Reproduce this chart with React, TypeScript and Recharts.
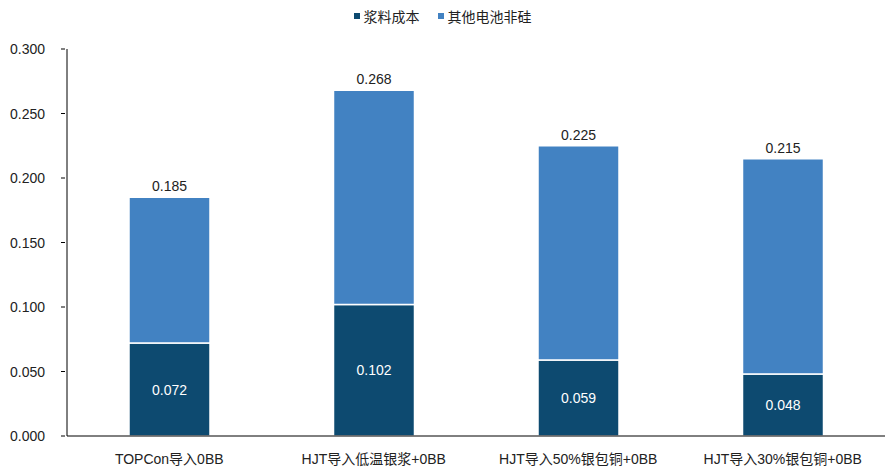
import React from 'react';
import { BarChart, Bar, XAxis, YAxis, Legend, LabelList } from 'recharts';

const categories = ['TOPCon导入0BB', 'HJT导入低温银浆+0BB', 'HJT导入50%银包铜+0BB', 'HJT导入30%银包铜+0BB'];
const pasteCost = [0.072, 0.102, 0.059, 0.048];
const totals = [0.185, 0.268, 0.225, 0.215];
const yTicks = [0, 0.05, 0.1, 0.15, 0.2, 0.25, 0.3];
const seriesNames = ['浆料成本', '其他电池非硅'];

const data = categories.map((name, i) => ({
  name,
  paste: pasteCost[i],
  other: +(totals[i] - pasteCost[i]).toFixed(3),
  total: totals[i],
}));

const FONT = '"Liberation Sans", Arial, "Noto Sans CJK SC", sans-serif';
const DARK = '#0d4a70';
const LIGHT = '#4282c2';

const YTick = (props: any) => {
  const { x, y, payload } = props;
  return (
    <g>
      <text x={x} y={y} dy={5} textAnchor="end" fontSize={14} fill="#222" fontFamily={FONT}>
        {payload.value.toFixed(3)}
      </text>
      <line x1={x + 16} x2={x + 20} y1={y} y2={y} stroke="#000" />
    </g>
  );
};

const TotalLabel = (props: any) => {
  const { x, y, width, index } = props;
  return (
    <text x={x + width / 2} y={y - 6} textAnchor="middle" fontSize={14} fill="#222" fontFamily={FONT}>
      {totals[index].toFixed(3)}
    </text>
  );
};

const LegendBox = () => {
  const colors = [DARK, LIGHT];
  return (
    <div style={{ display: 'flex', justifyContent: 'center', gap: 18, fontSize: 14, color: '#222', fontFamily: FONT, height: 19 }}>
      {seriesNames.map((n, i) => (
        <span key={n} style={{ display: 'flex', alignItems: 'center' }}>
          <span style={{ width: 6, height: 6, background: colors[i], marginRight: 4, display: 'inline-block' }} />
          {n}
        </span>
      ))}
    </div>
  );
};

const App = () => {
  return (
    <div style={{ position: 'absolute', left: 0, top: 0, fontFamily: FONT }}>
      <BarChart
        width={885}
        height={468}
        data={data}
        margin={{ top: 30, right: 0, left: 0, bottom: 0 }}
        barCategoryGap={62}
      >
        <Legend verticalAlign="top" align="center" content={<LegendBox />} wrapperStyle={{ top: 6, left: 0 }} />
        <XAxis
          dataKey="name"
          height={32}
          axisLine={{ stroke: '#000' }}
          tickLine={false}
          tickMargin={12}
          tick={{ fontSize: 14, fill: '#222', fontFamily: FONT }}
          interval={0}
        />
        <YAxis
          width={67}
          domain={[0, 0.3]}
          ticks={yTicks}
          axisLine={{ stroke: '#000' }}
          tickLine={false}
          tickMargin={16}
          tick={<YTick />}
          interval={0}
        />
        <Bar dataKey="paste" name={seriesNames[0]} stackId="a" fill={DARK} stroke="#fff" strokeWidth={1.5} isAnimationActive={false}>
          <LabelList
            dataKey="paste"
            position="center"
            fill="#fff"
            fontSize={14}
            fontFamily={FONT}
            formatter={(v: any) => Number(v).toFixed(3)}
          />
        </Bar>
        <Bar dataKey="other" name={seriesNames[1]} stackId="a" fill={LIGHT} stroke="#fff" strokeWidth={1.5} isAnimationActive={false}>
          <LabelList dataKey="other" content={<TotalLabel />} />
        </Bar>
      </BarChart>
    </div>
  );
};

export default App;
